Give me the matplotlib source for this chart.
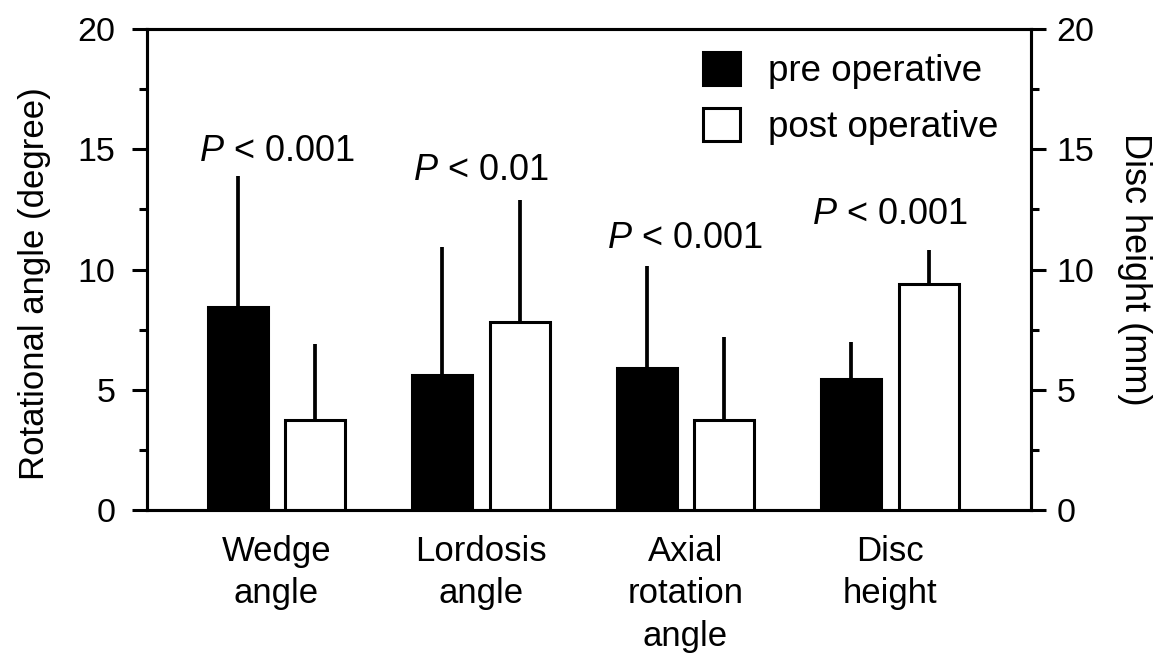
import matplotlib
matplotlib.use("Agg")
import matplotlib.pyplot as plt
from matplotlib.patches import Patch
from matplotlib.ticker import MultipleLocator
import numpy as np

plt.rcParams["font.family"] = ["Liberation Sans", "DejaVu Sans"]
plt.rcParams["mathtext.fontset"] = "custom"
plt.rcParams["mathtext.rm"] = "Liberation Sans"
plt.rcParams["mathtext.it"] = "Liberation Sans:italic"

# data
categories = ["Wedge\nangle", "Lordosis\nangle", "Axial\nrotation\nangle", "Disc\nheight"]
pre_mean = [8.42, 5.63, 5.91, 5.45]
pre_sd = [5.48, 5.29, 4.25, 1.55]
post_mean = [3.76, 7.81, 3.76, 9.39]
post_sd = [3.16, 5.06, 3.45, 1.43]
p_labels = [r"$P$ < 0.001", r"$P$ < 0.01", r"$P$ < 0.001", r"$P$ < 0.001"]
p_heights = [14.53, 13.74, 10.91, 11.89]

LW = 2.2

fig = plt.figure(figsize=(11.61, 6.6), dpi=100)
ax = fig.add_axes([146.7 / 1161, 1 - 510 / 660, (1031 - 146.7) / 1161, (510 - 29) / 660])
ax2 = ax.twinx()

x = np.arange(1, len(categories) + 1)
w = 0.293
off = 0.19
err_kw = dict(elinewidth=2.7, capsize=0, ecolor="black")

# first three groups on the left (angle) axis, disc height on the right axis
for i in range(len(categories)):
    a = ax2 if i == 3 else ax
    a.bar(x[i] - off, pre_mean[i], w, color="black", edgecolor="black", linewidth=LW,
          yerr=[[0], [pre_sd[i]]], error_kw=err_kw, zorder=3)
    a.bar(x[i] + off, post_mean[i], w, color="white", edgecolor="black", linewidth=LW,
          yerr=[[0], [post_sd[i]]], error_kw=err_kw, zorder=3)
    ax.text(x[i], p_heights[i], p_labels[i], ha="center", va="baseline", fontsize=26)

for a in (ax, ax2):
    a.set_ylim(0, 20)
    a.yaxis.set_major_locator(MultipleLocator(5))
    a.yaxis.set_minor_locator(MultipleLocator(2.5))
    for s in a.spines.values():
        s.set_linewidth(LW)
    a.tick_params(axis="y", which="major", length=10.5, width=LW, labelsize=24.5)
    a.tick_params(axis="y", which="minor", length=6, width=LW)
ax.tick_params(axis="y", which="major", pad=12)
ax2.tick_params(axis="y", which="major", pad=8)

ax.set_xlim(0.365, 4.69)
ax.set_xticks(x)
ax.set_xticklabels(categories, fontsize=25, linespacing=1.36)
ax.tick_params(axis="x", length=0, pad=18)

ax.set_ylabel("Rotational angle (degree)", fontsize=25, va="center", ha="center")
ax.yaxis.set_label_coords(-0.127, 0.47)
ax2.set_ylabel("Disc height (mm)", fontsize=26, rotation=270, va="center", ha="center")
ax2.yaxis.set_label_coords(1.117, 0.5)

handles = [Patch(facecolor="black", edgecolor="black", linewidth=LW),
           Patch(facecolor="white", edgecolor="black", linewidth=LW)]
ax2.legend(handles, ["pre operative", "post operative"], loc="upper left",
           bbox_to_anchor=(0.629, 0.952), frameon=False, fontsize=26.5,
           handlelength=1.0, handleheight=1.0, handletextpad=0.78,
           labelspacing=0.52, borderpad=0, borderaxespad=0)

fig.savefig("out.png", dpi=100)
